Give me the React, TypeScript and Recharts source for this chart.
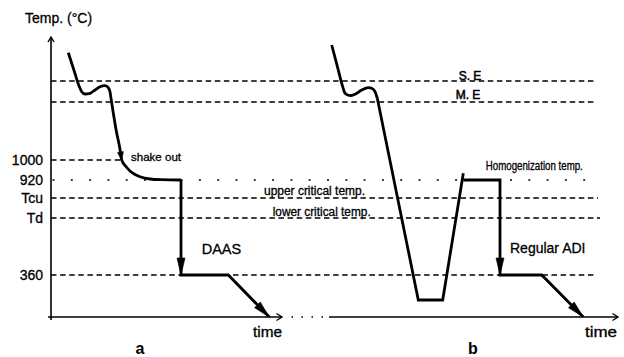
import React from 'react';
import { LineChart, Line, XAxis, YAxis, ReferenceLine, ReferenceDot } from 'recharts';

const FONT = "'Liberation Sans', Arial, Helvetica, sans-serif";

// ---- Schematic temperature levels (arbitrary, non-linear scale; 0 = time axis) ----
const levelSE = 236;
const levelME = 215;
const level1000 = 157;
const level920 = 137;
const levelTcu = 119;
const levelTd = 99;
const level360 = 42;

const yTickValues = [level1000, level920, levelTcu, levelTd, level360];
const yTickLabels = ['1000', '920', 'Tcu', 'Td', '360'];

// dashed guide lines: level and the time where each one stops
const guideLevels = [levelSE, levelME, level1000, levelTcu, levelTd, level360];
const guideEnds = [546, 546, 69, 547, 549, 546];
const homogStart = 1.5;
const homogEnd = 535;

// ---- Panel a (DAAS) ----
const aCoolTime = [17.3, 22.8, 28.3, 30.7, 34, 39, 44, 49, 54, 57.3, 59, 60, 65.3, 68.7, 70.7, 75, 79, 84, 89, 99, 110, 130];
const aCoolTemp = [264.3, 247.3, 230.3, 225.3, 223, 223.7, 227, 230.3, 231.3, 229.3, 225.3, 218.7, 186, 169.4, 157, 150.5, 146, 142.5, 140.3, 138, 137.3, 137];
const aCoolArrows = [14];

const aQuenchTime = [130, 130, 177.3, 218.3];
const aQuenchTemp = [137, 42, 42, 0];
const aQuenchArrows = [1, 3];

// ---- Panel b (Regular ADI) ----
const bCoolTime = [280.7, 286.2, 291.7, 294, 299, 304, 310.7, 317.3, 320.7, 324, 326.3];
const bCoolTemp = [272, 251.2, 230.3, 223.7, 221.3, 222.7, 227, 229.3, 228.7, 225.3, 218.7];

const bCycleTime = [326.3, 367.3, 391.7, 412.3];
const bCycleTemp = [218.7, 17, 17, 143.7];

const bQuenchTime = [412.3, 449, 449, 490.7, 532.3];
const bQuenchTemp = [137, 137, 42, 42, 0];
const bQuenchArrows = [2, 4];

// time axis extents
const axisAEnd = 231;
const axisBStart = 278;
const axisBEnd = 567;

type Pt = { t: number; v: number };
const zip = (ts: number[], vs: number[]): Pt[] => ts.map((t, i) => ({ t, v: vs[i] }));

const aCool = zip(aCoolTime, aCoolTemp);
const aQuench = zip(aQuenchTime, aQuenchTemp);
const bCool = zip(bCoolTime, bCoolTemp);
const bCycle = zip(bCycleTime, bCycleTemp);
const bQuench = zip(bQuenchTime, bQuenchTemp);

const arrowDot = (data: Pt[], arrows: number[], len: number, hw: number) => (props: any) => {
  const { cx, cy, index } = props;
  if (!arrows.includes(index) || index === 0 || cx == null || cy == null) {
    return <g key={`n${index}`} />;
  }
  const prev = data[index - 1];
  const cur = data[index];
  let dx = cur.t - prev.t;
  let dy = -(cur.v - prev.v);
  const pts = props.points;
  if (pts && pts[index - 1] && pts[index - 1].x != null) {
    dx = cx - pts[index - 1].x;
    dy = cy - pts[index - 1].y;
  }
  const d = Math.hypot(dx, dy) || 1;
  const ux = dx / d;
  const uy = dy / d;
  const bx = cx - ux * len;
  const by = cy - uy * len;
  const path = `M${cx},${cy}L${bx - uy * hw},${by + ux * hw}L${bx + uy * hw},${by - ux * hw}Z`;
  return <path key={`a${index}`} d={path} fill="#000" stroke="#000" strokeWidth={0.6} strokeLinejoin="miter" />;
};

const noDot = (props: any) => <g key={`n${props.index}`} />;

const openArrow = (dir: 'up' | 'right') => (p: any) => {
  const { cx, cy } = p;
  const d =
    dir === 'right'
      ? `M${cx - 5.5},${cy - 3.5}L${cx},${cy}L${cx - 5.5},${cy + 3.5}`
      : `M${cx - 3},${cy + 5}L${cx},${cy}L${cx + 3},${cy + 5}`;
  return <path d={d} fill="none" stroke="#000" strokeWidth={1.4} />;
};

type TextOpts = {
  size?: number;
  anchor?: 'start' | 'middle' | 'end';
  weight?: string | number;
  length?: number;
  heavy?: number;
};

const textAt = (key: string, x: number, y: number, text: string, o: TextOpts = {}) => (
  <ReferenceDot
    key={key}
    x={x}
    y={y}
    r={1}
    ifOverflow="visible"
    shape={(p: any) => (
      <text
        x={p.cx}
        y={p.cy}
        textAnchor={o.anchor || 'start'}
        fontFamily={FONT}
        fontSize={o.size || 12}
        fontWeight={o.weight || 'normal'}
        fill="#000"
        stroke="#000"
        strokeWidth={o.heavy ?? 0.3}
        {...(o.length ? { textLength: o.length, lengthAdjust: 'spacingAndGlyphs' } : {})}
      >
        {text}
      </text>
    )}
  />
);

const lineStyle = {
  stroke: '#000',
  strokeWidth: 2.8,
  isAnimationActive: false,
  activeDot: false as const,
};

export default function App() {
  return (
    <div style={{ width: 624, height: 357, background: '#fff' }}>
      <style>{'body{margin:0;background:#fff}'}</style>
      <LineChart width={624} height={357} margin={{ top: 37, right: 2, bottom: 40, left: 0 }}>
        <XAxis type="number" dataKey="t" domain={[0, 571]} hide allowDataOverflow />
        <YAxis
          type="number"
          dataKey="v"
          domain={[0, 280]}
          ticks={yTickValues}
          interval={0}
          allowDataOverflow
          width={51}
          tickLine={false}
          axisLine={{ stroke: '#000', strokeWidth: 1.6 }}
          tick={{ fill: '#000', stroke: '#000', strokeWidth: 0.3, fontSize: 14, fontFamily: FONT }}
          tickFormatter={(v: number) => yTickLabels[yTickValues.indexOf(v)] ?? ''}
        />

        {guideLevels.map((lv, i) => (
          <ReferenceLine
            key={`g${i}`}
            segment={[
              { x: 0, y: lv },
              { x: guideEnds[i], y: lv },
            ]}
            stroke="#000"
            strokeWidth={1.5}
            strokeDasharray="5.5 3.6"
            ifOverflow="visible"
          />
        ))}
        <ReferenceLine
          segment={[
            { x: homogStart, y: level920 },
            { x: homogEnd, y: level920 },
          ]}
          stroke="#000"
          strokeWidth={1.6}
          strokeDasharray="2 16.3"
          ifOverflow="visible"
        />

        {/* time axes */}
        <ReferenceLine
          segment={[
            { x: -3, y: 0 },
            { x: axisAEnd, y: 0 },
          ]}
          stroke="#000"
          strokeWidth={1.6}
          ifOverflow="visible"
        />
        <ReferenceLine
          segment={[
            { x: 0, y: 0 },
            { x: 0, y: -3 },
          ]}
          stroke="#000"
          strokeWidth={1.6}
          ifOverflow="visible"
        />
        <ReferenceLine
          segment={[
            { x: 240.5, y: 0 },
            { x: 272, y: 0 },
          ]}
          stroke="#000"
          strokeWidth={1.5}
          strokeDasharray="1.5 8.5"
          ifOverflow="visible"
        />
        <ReferenceLine
          segment={[
            { x: axisBStart, y: 0 },
            { x: axisBEnd, y: 0 },
          ]}
          stroke="#000"
          strokeWidth={1.6}
          ifOverflow="visible"
        />
        <ReferenceDot x={axisAEnd} y={0} r={1} ifOverflow="visible" shape={openArrow('right')} />
        <ReferenceDot x={axisBEnd} y={0} r={1} ifOverflow="visible" shape={openArrow('right')} />
        <ReferenceDot x={0} y={280} r={1} ifOverflow="visible" shape={openArrow('up')} />

        {/* temperature paths */}
        <Line data={aCool} dataKey="v" type="monotone" {...lineStyle} dot={arrowDot(aCool, aCoolArrows, 8, 3)} />
        <Line data={aQuench} dataKey="v" type="linear" {...lineStyle} dot={arrowDot(aQuench, aQuenchArrows, 17, 4)} />
        <Line data={bCool} dataKey="v" type="monotone" {...lineStyle} dot={noDot} />
        <Line data={bCycle} dataKey="v" type="linear" {...lineStyle} dot={noDot} />
        <Line data={bQuench} dataKey="v" type="linear" {...lineStyle} dot={arrowDot(bQuench, bQuenchArrows, 17, 4)} />

        {/* annotations */}
        {textAt('ylab', -26, 294, 'Temp. (°C)', { size: 14 })}
        {textAt('shake', 80, 156.3, 'shake out', { size: 11.5, length: 50 })}
        {textAt('se', 419, 237, 'S. E', { size: 12, anchor: 'middle', heavy: 0.5 })}
        {textAt('me', 417, 218, 'M. E', { size: 12, anchor: 'middle', heavy: 0.5 })}
        {textAt('uct', 263.5, 122, 'upper critical temp.', { size: 12, anchor: 'middle', length: 101 })}
        {textAt('lct', 270.7, 101.3, 'lower critical temp.', { size: 12, anchor: 'middle', length: 98 })}
        {textAt('homo', 483.3, 147, 'Homogenization temp.', { size: 12, anchor: 'middle', length: 97 })}
        {textAt('daas', 150.7, 62.7, 'DAAS', { size: 14.5 })}
        {textAt('adi', 459, 63.7, 'Regular ADI', { size: 14 })}
        {textAt('timeA', 202, -19.7, 'time', { size: 14, length: 29 })}
        {textAt('timeB', 534, -19.7, 'time', { size: 14, length: 32 })}
        {textAt('pa', 89, -37, 'a', { size: 16, anchor: 'middle', weight: 'bold', heavy: 0 })}
        {textAt('pb', 422, -37, 'b', { size: 16, anchor: 'middle', weight: 'bold', heavy: 0 })}
      </LineChart>
    </div>
  );
}
